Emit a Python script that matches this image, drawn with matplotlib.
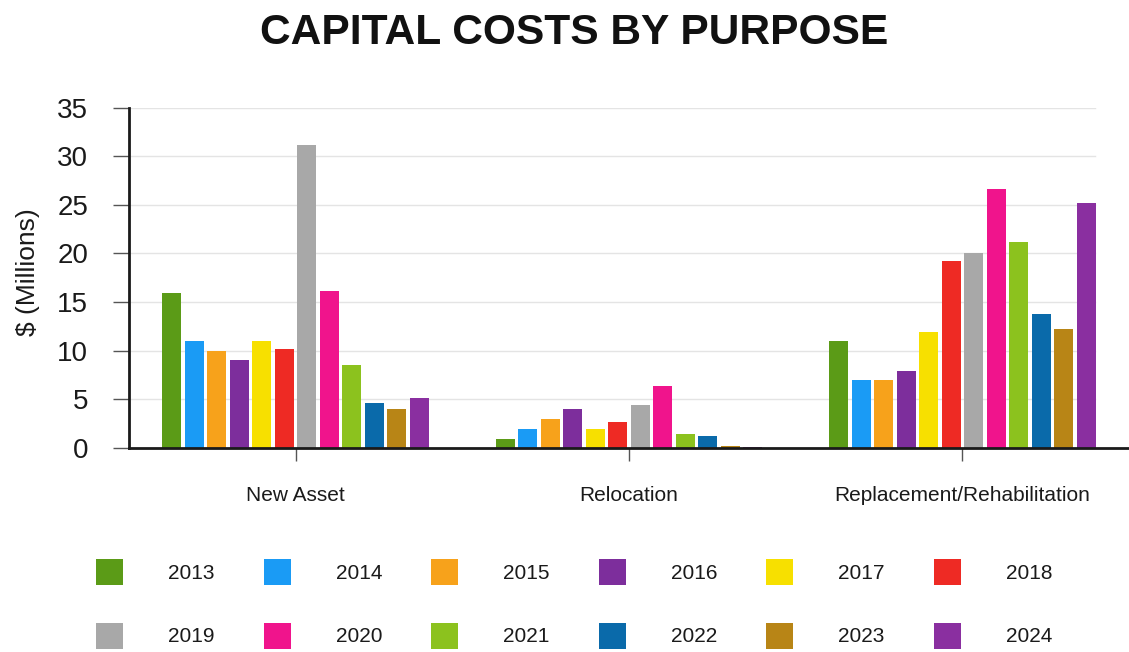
import matplotlib
matplotlib.use("Agg")
import matplotlib.pyplot as plt
from matplotlib.patches import Patch
import numpy as np

plt.rcParams["font.family"] = ["Liberation Sans", "DejaVu Sans"]

# Capital costs ($ millions) by purpose and year
categories = ["New Asset", "Relocation", "Replacement/Rehabilitation"]
years = ["2013", "2014", "2015", "2016", "2017", "2018",
         "2019", "2020", "2021", "2022", "2023", "2024"]

new_asset = [15.9, 11.0, 10.0, 9.0, 11.0, 10.2, 31.1, 16.1, 8.5, 4.6, 4.0, 5.1]
relocation = [0.9, 2.0, 3.0, 4.0, 2.0, 2.7, 4.4, 6.4, 1.4, 1.2, 0.2, 0.15]
replacement = [11.0, 7.0, 7.0, 7.9, 11.9, 19.2, 20.0, 26.6, 21.2, 13.8, 12.2, 25.2]

colors = ["#5b9b17", "#1a9bf5", "#f7a21b", "#7d2e9c", "#f7e000", "#ee2a24",
          "#a8a8a8", "#f0148c", "#8cc21e", "#0a6aaa", "#b88516", "#8a2fa0"]

yticks = [0, 5, 10, 15, 20, 25, 30, 35]

values = np.array([new_asset, relocation, replacement])  # shape (category, year)

fig = plt.figure(figsize=(11.29, 6.52), dpi=100)
ax = fig.add_axes([129 / 1129, 1 - 448 / 652, 1000 / 1129, 340.5 / 652])

x = np.arange(len(categories))
step = 0.0675
width = 0.057
n = len(years)
for i, yr in enumerate(years):
    offs = (i - (n - 1) / 2) * step
    ax.bar(x + offs, values[:, i], width=width, color=colors[i], zorder=3)

ax.set_xlim(-0.5, 2.5)
ax.set_ylim(0, 35)
ax.set_yticks(yticks)
ax.set_yticklabels([str(t) for t in yticks], fontsize=20, color="#1a1a1a")
ax.set_xticks(x)
ax.set_xticklabels(categories, fontsize=15, color="#1a1a1a")

# horizontal gridlines stop a little short of the right end of the axis line
for t in yticks[1:]:
    ax.axhline(t, xmin=0, xmax=0.966, color="#e4e4e4", linewidth=1.0, zorder=1)

for side in ["top", "right"]:
    ax.spines[side].set_visible(False)
for side in ["left", "bottom"]:
    ax.spines[side].set_color("#1a1a1a")
    ax.spines[side].set_linewidth(2.0)
    ax.spines[side].set_zorder(4)

ax.tick_params(axis="y", length=11.5, width=1.0, color="#555555", pad=18)
ax.tick_params(axis="x", length=9.4, width=1.0, color="#555555", pad=18)

ax.set_ylabel("$ (Millions)", fontsize=19, color="#1a1a1a")
ax.yaxis.set_label_coords(-89 / 1000, (448 - 272) / 340.5)

fig.text(574.5 / 1129, 1 - 44 / 652, "CAPITAL COSTS BY PURPOSE",
         ha="center", va="baseline", fontsize=30.6, fontweight="bold", color="#111111")

# legend laid out row by row: 2013-2018 on top, 2019-2024 below
handles = [Patch(facecolor=c, edgecolor="none") for c in colors]
order = []
for c in range(6):
    order += [c, c + 6]
leg = fig.legend([handles[i] for i in order], [years[i] for i in order],
                 ncol=6, loc="upper left",
                 bbox_to_anchor=(96 / 1129, 1 - 559 / 652),
                 frameon=False, fontsize=15, borderpad=0, borderaxespad=0,
                 handlelength=1.3, handleheight=1.55, handletextpad=2.16,
                 columnspacing=2.35, labelspacing=1.8)
for t in leg.get_texts():
    t.set_color("#1a1a1a")

fig.savefig("out.png", dpi=100, facecolor="white")
